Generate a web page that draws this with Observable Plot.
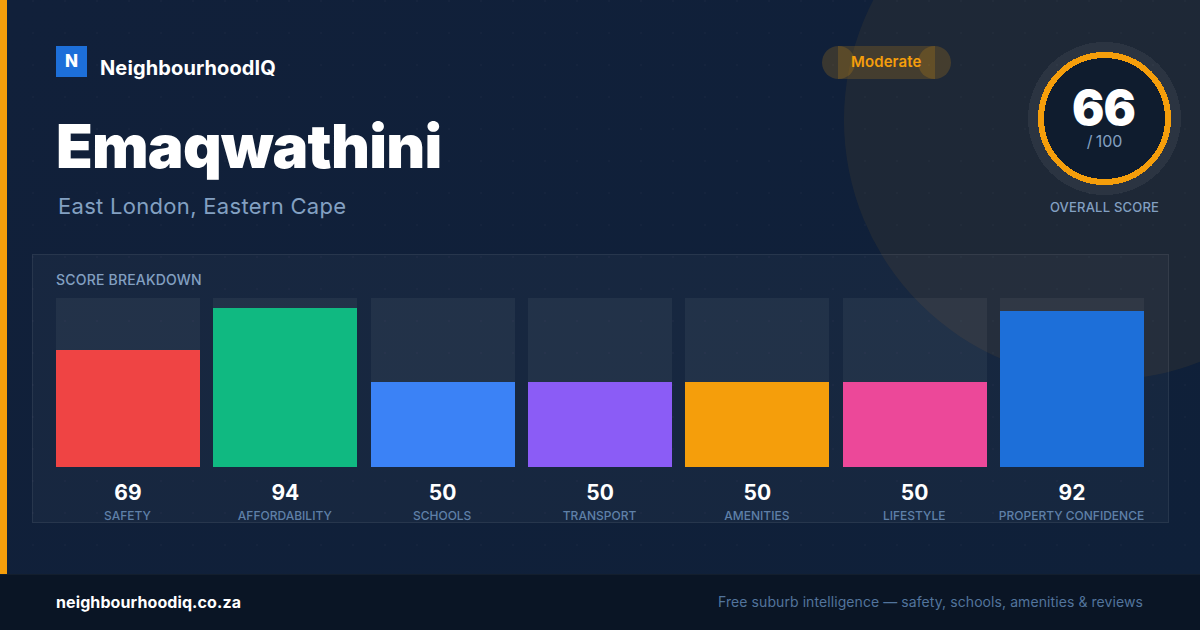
<!DOCTYPE html>
<html><head><meta charset="utf-8">
<script src="https://cdn.jsdelivr.net/npm/d3@7"></script>
<script src="https://cdn.jsdelivr.net/npm/@observablehq/plot@0.6"></script>
<style>
html,body{margin:0;padding:0;width:1200px;height:630px;overflow:hidden;background:#10213b;font-family:Inter,sans-serif}
.abs{position:absolute;white-space:nowrap;line-height:1}
#stage{position:absolute;left:0;top:0;width:1200px;height:630px;overflow:hidden;background:linear-gradient(135deg,#11203a,#0f2039)}
#dots{position:absolute;inset:0;background-image:radial-gradient(circle at 1px 1px,rgba(255,255,255,.018) 1px,transparent 0);background-size:32px 32px}
#blob{position:absolute;left:844px;top:-140px;width:520px;height:520px;border-radius:50%;background:rgba(245,158,11,.065)}
#card{position:absolute;left:32px;top:254px;width:1135px;height:267px;background:rgba(255,255,255,.03);border:1px solid rgba(255,255,255,.07)}
#accent{position:absolute;left:0;top:0;width:7px;height:574px;background:#f59e0b}
#footer{position:absolute;left:0;top:574px;width:1200px;height:56px;background:#0a1525;border-top:1px solid rgba(255,255,255,.04);box-sizing:border-box}
#plot{position:absolute;left:0;top:0}
#logo{left:56px;top:46px;width:31px;height:31px;background:#1d6fd9;color:#fff;font-weight:800;font-size:17px;display:flex;align-items:center;justify-content:center}
.pill{position:absolute;background:rgba(245,158,11,.18)}
#ring{position:absolute;left:1020px;top:34px}
</style></head><body>
<div id="stage">
<div id="blob"></div><div id="dots"></div><div id="card"></div>
<div id="accent"></div>
<div class="abs" id="logo">N</div>
<div class="abs" style="left:100px;top:58px;font-size:20px;font-weight:700;color:#fff;letter-spacing:.12px">NeighbourhoodIQ</div>
<div class="abs" id="title" style="left:56px;top:116px;font-size:60px;font-weight:900;color:#fff;letter-spacing:-.75px">Emaqwathini</div>
<div class="abs" style="left:58px;top:195px;font-size:22px;font-weight:400;color:#83a0c2;letter-spacing:.3px">East London, Eastern Cape</div>
<div class="pill" style="left:838px;top:46px;width:97px;height:33px"></div>
<div class="pill" style="left:822px;top:46px;width:33px;height:33px;border-radius:50%"></div>
<div class="pill" style="left:918px;top:46px;width:33px;height:33px;border-radius:50%"></div>
<div class="abs" style="left:851px;top:54px;font-size:15px;font-weight:600;color:#f59e0b;letter-spacing:.1px">Moderate</div>
<svg id="ring" width="170" height="170" shape-rendering="crispEdges">
<circle cx="84.5" cy="84.5" r="76.5" fill="rgba(255,255,255,.06)"/>
<circle cx="84.5" cy="84.5" r="63.5" fill="#0f1c2e" stroke="#f59e0b" stroke-width="6"/>
</svg>
<div class="abs" style="left:1003px;width:201px;text-align:center;top:84px;font-size:48px;font-weight:900;color:#fff;letter-spacing:-1px">66</div>
<div class="abs" style="left:1004px;width:201px;text-align:center;top:133px;font-size:16px;color:#83a0c2;word-spacing:-1px;letter-spacing:-.1px">/ 100</div>
<div class="abs" style="left:1004px;width:201px;text-align:center;top:201px;font-size:13px;font-weight:500;color:#83a0c2;letter-spacing:.2px">OVERALL SCORE</div>
<div class="abs" style="left:56px;top:273px;font-size:14px;font-weight:500;color:#83a0c2;letter-spacing:.2px">SCORE BREAKDOWN</div>
<div id="plot"></div>
<div id="footer"></div>
<div class="abs" style="left:56px;top:594px;font-size:16px;font-weight:700;color:#fff;letter-spacing:.1px">neighbourhoodiq.co.za</div>
<div class="abs" style="right:57px;top:595px;font-size:14px;color:#52749c;letter-spacing:.08px">Free suburb intelligence — safety, schools, amenities &amp; reviews</div>
</div>
<script>
const categories = ["SAFETY","AFFORDABILITY","SCHOOLS","TRANSPORT","AMENITIES","LIFESTYLE","PROPERTY CONFIDENCE"];
const scores = [69,94,50,50,50,50,92];
const barColors = ["#ef4444","#10b981","#3b82f6","#8b5cf6","#f59e0b","#ec4899","#1d6fd9"];
const rows = categories.map((name,i)=>({name,score:scores[i],color:barColors[i]}));
const chart = Plot.plot({
  width:1200,height:630,marginLeft:56,marginRight:56,marginTop:297.7,marginBottom:163,
  style:{background:"transparent",fontFamily:"Inter, sans-serif",overflow:"visible"},
  x:{domain:categories,paddingInner:0.0847,paddingOuter:0,round:false,axis:null},
  y:{domain:[0,100],axis:null},
  marks:[
    Plot.barY(rows,{x:"name",y:100,fill:"#fff",fillOpacity:0.05,shapeRendering:"crispEdges"}),
    Plot.barY(rows,{x:"name",y:"score",fill:"color",shapeRendering:"crispEdges"}),
    Plot.text(rows,{x:"name",text:d=>String(d.score),frameAnchor:"bottom",dy:32,dx:-0.5,fontSize:21,fontWeight:700,fill:"#fff"}),
    Plot.text(rows,{x:"name",text:"name",frameAnchor:"bottom",dy:52,dx:-1,fontSize:12,fontWeight:500,fill:"#5f80a8",letterSpacing:"0.7"})
  ]
});
document.getElementById("plot").append(chart);
</script>
</body></html>
